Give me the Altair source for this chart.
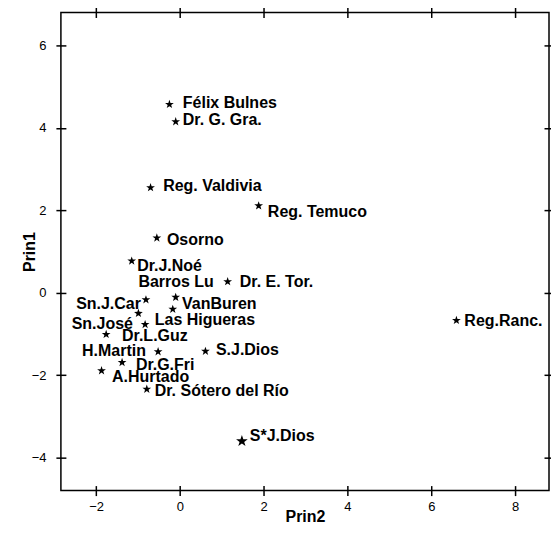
import altair as alt
import pandas as pd

# Star positions (Prin2, Prin1)
names = ["Félix Bulnes", "Dr. G. Gra.", "Reg. Valdivia", "Reg. Temuco", "Osorno",
         "Dr.J.Noé", "Dr. E. Tor.", "VanBuren", "Barros Lu", "Sn.J.Car",
         "Sn.José", "Las Higueras", "Dr.L.Guz", "H.Martin", "S.J.Dios",
         "Dr.G.Fri", "A.Hurtado", "Dr. Sótero del Río", "S*J.Dios", "Reg.Ranc."]
prin2 = [-0.25, -0.10, -0.70, 1.88, -0.55, -1.15, 1.14, -0.10, -0.17, -0.81,
         -0.99, -0.83, -1.76, -0.52, 0.61, -1.38, -1.87, -0.79, 1.48, 6.60]
prin1 = [4.57, 4.15, 2.55, 2.11, 1.33, 0.77, 0.27, -0.11, -0.40, -0.17,
         -0.50, -0.77, -1.01, -1.43, -1.42, -1.69, -1.89, -2.34, -3.60, -0.67]
big = [False] * 18 + [True, False]

# Label anchor positions in data units and alignment
label_x = [0.07, 0.07, -0.40, 2.10, -0.31, -1.02, 1.43, 0.05, 0.81, -0.93,
           -1.12, -0.60, -1.38, -0.81, 0.86, -1.05, -1.62, -0.60, 1.67, 6.79]
label_y = [4.61, 4.20, 2.60, 1.97, 1.29, 0.66, 0.27, -0.28, 0.27, -0.28,
           -0.77, -0.65, -1.06, -1.42, -1.40, -1.76, -2.05, -2.39, -3.48, -0.69]
label_side = ["left", "left", "left", "left", "left", "left", "left", "left", "right", "right",
              "right", "left", "left", "right", "left", "left", "left", "left", "left", "left"]

x_ticks = [-2, 0, 2, 4, 6, 8]
y_ticks = [-4, -2, 0, 2, 4, 6]
x_domain = [-2.84, 8.81]
y_domain = [-4.80, 6.80]

pts = pd.DataFrame({"name": names, "Prin2": prin2, "Prin1": prin1, "big": big})
labs = pd.DataFrame({"name": names, "lx": label_x, "ly": label_y, "side": label_side})

FONT = "Liberation Sans"
STAR = ("M0,-1L0.235,-0.324L0.951,-0.309L0.38,0.124L0.588,0.809L0,0.4"
        "L-0.588,0.809L-0.38,0.124L-0.951,-0.309L-0.235,-0.324Z")

xs = alt.Scale(domain=x_domain, nice=False, zero=False)
ys = alt.Scale(domain=y_domain, nice=False, zero=False)

axis_common = dict(domain=False, tickColor="black", tickWidth=1.5, tickSize=10, offset=-5,
                   grid=False, labelFont=FONT, labelFontSize=13, labelColor="black",
                   titleFont=FONT, titleFontSize=16, titleFontWeight="bold", titleColor="black")

x_bottom = alt.Axis(orient="bottom", values=x_ticks, labelPadding=5, title="Prin2",
                    titlePadding=-5, **axis_common)
y_left = alt.Axis(orient="left", values=y_ticks, labelPadding=10, title="Prin1",
                  titlePadding=-6, **axis_common)
x_top = alt.Axis(orient="top", values=x_ticks, labels=False, title=None, **axis_common)
y_right = alt.Axis(orient="right", values=y_ticks, labels=False, title=None, **axis_common)

points = alt.Chart(pts).mark_point(shape=STAR, filled=True, color="black", opacity=1,
                                   strokeWidth=0).encode(
    x=alt.X("Prin2:Q", scale=xs, axis=x_bottom),
    y=alt.Y("Prin1:Q", scale=ys, axis=y_left),
    size=alt.condition("datum.big", alt.value(150), alt.value(85)),
)

frame_axes = alt.Chart(pts).mark_point(opacity=0).encode(
    x=alt.X("Prin2:Q", scale=xs, axis=x_top),
    y=alt.Y("Prin1:Q", scale=ys, axis=y_right),
)

lab_left = alt.Chart(labs).transform_filter("datum.side == 'left'").mark_text(
    align="left", baseline="middle", font=FONT, fontSize=16, fontWeight="bold", color="black"
).encode(
    x=alt.X("lx:Q", scale=xs, axis=None),
    y=alt.Y("ly:Q", scale=ys, axis=None),
    text="name:N",
)

lab_right = alt.Chart(labs).transform_filter("datum.side == 'right'").mark_text(
    align="right", baseline="middle", font=FONT, fontSize=16, fontWeight="bold", color="black"
).encode(
    x=alt.X("lx:Q", scale=xs, axis=None),
    y=alt.Y("ly:Q", scale=ys, axis=None),
    text="name:N",
)

chart = alt.layer(points, frame_axes, lab_left, lab_right).resolve_axis(
    x="independent", y="independent"
).properties(
    width=489, height=479,
    autosize=alt.AutoSizeParams(type="none"),
    padding={"left": 53, "top": 4, "right": 2, "bottom": 44},
    background="white",
).configure_view(stroke="black", strokeWidth=1.5)

chart.save("out.html", embed_options={"renderer": "svg", "actions": False})
